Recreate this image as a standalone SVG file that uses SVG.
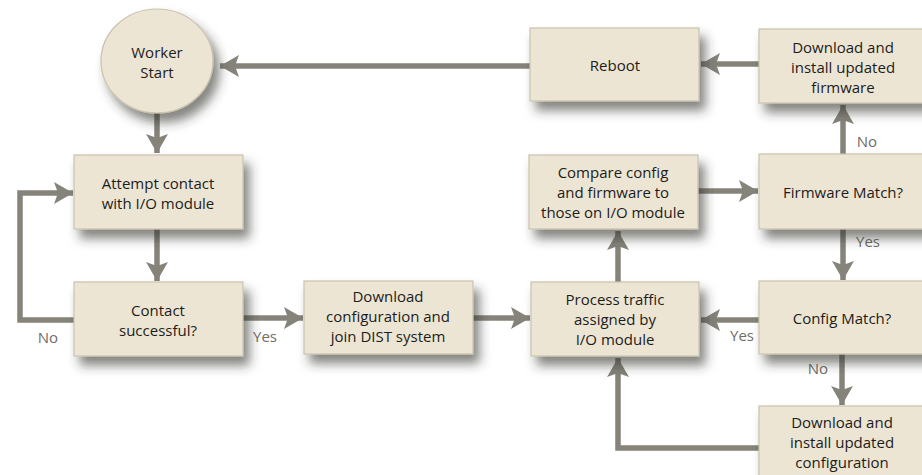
<svg xmlns="http://www.w3.org/2000/svg" width="922" height="475" viewBox="0 0 922 475">
  <defs>
    <filter id="shadow" x="-20%" y="-30%" width="150%" height="180%">
      <feDropShadow dx="6" dy="9" stdDeviation="5.5" flood-color="#33312a" flood-opacity="0.6"/>
    </filter>
    <marker id="arrow" markerUnits="userSpaceOnUse" markerWidth="20" markerHeight="22" viewBox="0 0 20 22" refX="19" refY="11" orient="auto">
      <path d="M0,0 L19,11 L0,22 L4,11 Z" fill="#85837a"/>
    </marker>
  </defs>
  <style>
    .node rect, .node ellipse { fill: #ede5d4; stroke: #c9c1ad; stroke-width: 1.2; filter: url(#shadow); }
    .node text { font-family: "Open Sans", "Liberation Sans", sans-serif; font-size: 15px; fill: #1c1c1a; text-anchor: middle; }
    .edge { fill: none; stroke: #85837a; stroke-width: 5.5; }
    .arr { marker-end: url(#arrow); }
    .label { font-family: "Open Sans", "Liberation Sans", sans-serif; font-size: 15px; fill: #6f6d66; text-anchor: middle; }
  </style>
  <rect width="922" height="475" fill="#ffffff"/>

  <!-- connectors -->
  <g id="connectors">
    <path class="edge arr" d="M530,66 L220,66"/>
    <path class="edge arr" d="M157,112 L157,153"/>
    <path class="edge arr" d="M157,229 L157,281"/>
    <path class="edge arr" d="M74,320 L20,320 L20,193 L73,193"/>
    <path class="edge arr" d="M243,318 L303,318"/>
    <path class="edge arr" d="M473,318 L530,318"/>
    <path class="edge arr" d="M618,282 L618,231"/>
    <path class="edge arr" d="M698,191 L758,191"/>
    <path class="edge arr" d="M843,154 L843,105"/>
    <path class="edge arr" d="M759,64 L701,64"/>
    <path class="edge arr" d="M843,229 L843,280"/>
    <path class="edge arr" d="M759,320 L701,320"/>
    <path class="edge arr" d="M842,354 L842,405"/>
    <path class="edge arr" d="M759,448 L618,448 L618,358"/>
    <text class="label" x="48" y="343">No</text>
    <text class="label" x="265" y="342">Yes</text>
    <text class="label" x="867" y="147">No</text>
    <text class="label" x="868" y="247">Yes</text>
    <text class="label" x="742" y="341">Yes</text>
    <text class="label" x="818" y="374">No</text>
  </g>

  <g id="worker-start" class="node">
    <ellipse cx="157" cy="61" rx="56" ry="52"/>
    <text x="157" y="58">Worker</text>
    <text x="157" y="78">Start</text>
  </g>

  <g id="attempt-contact" class="node">
    <rect x="74" y="155" width="169" height="74"/>
    <text x="158" y="189">Attempt contact</text>
    <text x="158" y="209">with I/O module</text>
  </g>

  <g id="contact-successful" class="node">
    <rect x="74" y="282" width="169" height="74"/>
    <text x="158" y="316">Contact</text>
    <text x="158" y="336">successful?</text>
  </g>

  <g id="download-config-join" class="node">
    <rect x="304" y="281" width="169" height="73"/>
    <text x="388" y="302">Download</text>
    <text x="388" y="322">configuration and</text>
    <text x="388" y="342">join DIST system</text>
  </g>

  <g id="process-traffic" class="node">
    <rect x="531" y="282" width="168" height="74"/>
    <text x="615" y="305">Process traffic</text>
    <text x="615" y="325">assigned by</text>
    <text x="615" y="345">I/O module</text>
  </g>

  <g id="compare" class="node">
    <rect x="529" y="155" width="169" height="74"/>
    <text x="613" y="178">Compare config</text>
    <text x="613" y="198">and firmware to</text>
    <text x="613" y="218">those on I/O module</text>
  </g>

  <g id="reboot" class="node">
    <rect x="530" y="28" width="169" height="73"/>
    <text x="615" y="71">Reboot</text>
  </g>

  <g id="download-firmware" class="node">
    <rect x="759" y="29" width="170" height="74"/>
    <text x="843" y="53">Download and</text>
    <text x="843" y="73">install updated</text>
    <text x="843" y="93">firmware</text>
  </g>

  <g id="firmware-match" class="node">
    <rect x="759" y="154" width="170" height="75"/>
    <text x="843" y="198">Firmware Match?</text>
  </g>

  <g id="config-match" class="node">
    <rect x="759" y="281" width="170" height="73"/>
    <text x="842" y="324">Config Match?</text>
  </g>

  <g id="download-config" class="node">
    <rect x="759" y="406" width="170" height="80"/>
    <text x="842" y="428">Download and</text>
    <text x="842" y="448">install updated</text>
    <text x="842" y="468">configuration</text>
  </g>
</svg>
